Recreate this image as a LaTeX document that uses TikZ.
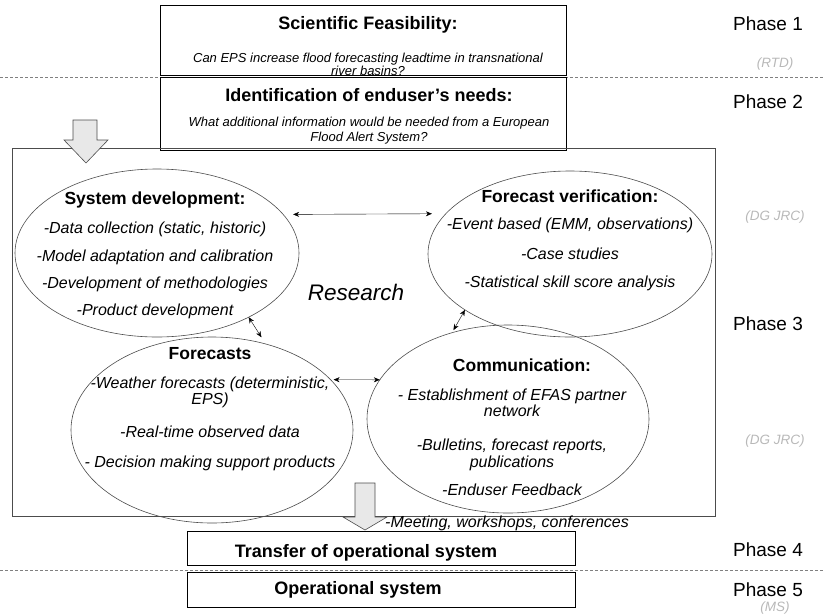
\documentclass[tikz,border=0pt]{standalone}
\usepackage{fontspec}
\setmainfont{Liberation Sans}
\usetikzlibrary{shapes.geometric,positioning,arrows.meta}

\definecolor{sponsor}{gray}{0.72}
\definecolor{arrowfill}{gray}{0.91}
\definecolor{edge}{gray}{0.3}

\newcommand{\boxhead}{\upshape\bfseries\fontsize{18}{18}\selectfont}
\newcommand{\bubhead}{\upshape\bfseries\fontsize{17.5}{18}\selectfont}

\tikzset{
  box/.style={draw=black, line width=0.8pt, fill=white, inner sep=0pt, outer sep=0pt, anchor=north west},
  boxtext/.style={font=\fontsize{13}{13}\selectfont\itshape, align=center, anchor=north, inner sep=0pt},
  bubble/.style={draw=edge, ellipse, line width=0.6pt, inner sep=0pt, outer sep=0pt},
  bubtext/.style={font=\fontsize{16}{16}\selectfont\itshape, align=center, anchor=north, inner sep=0pt},
  phase/.style={font=\fontsize{19}{19}\selectfont, anchor=base, inner sep=0pt},
  who/.style={font=\fontsize{13.5}{14}\selectfont\itshape, text=sponsor, anchor=base, inner sep=0pt},
  sep/.style={draw=gray, dash pattern=on 3pt off 2pt, line width=0.5pt},
  blockarrow/.style={draw=edge, fill=arrowfill, line width=0.6pt, line join=miter}
}

\begin{document}
\begin{tikzpicture}[x=1pt,y=-1pt,>={Stealth[length=6pt,width=5pt]}]
\useasboundingbox (0,0) rectangle (825,614);

% phase borders
\draw[sep] (0,77) -- (825,77);
\draw[sep] (0,570) -- (825,570);

% phase 1 and 2
\node[box, minimum width=406, minimum height=70] (feas) at (160,5) {};
\node[boxtext] (feastxt) at (368,16.5) {{\boxhead Scientific Feasibility:}\\[18.5pt]
  Can EPS increase flood forecasting leadtime in transnational\\ river basins?};
\node[box, minimum width=406, minimum height=73] (needs) at (160,77) {};
\node[boxtext] (needstxt) at (369,88.6) {{\boxhead Identification of enduser's needs:}\\[12pt]
  What additional information would be needed from a European\\[2pt] Flood Alert System?};

% phase 3
\draw[draw=edge, line width=0.7pt] (12,148) rectangle (715,516);
\node[font=\fontsize{22.5}{23}\selectfont\itshape, anchor=base, inner sep=0pt] (research) at (356,300) {Research};

\node[bubble, minimum width=284, minimum height=168] (sysdev) at (157,253) {};
\node[bubble, minimum width=284, minimum height=166] (fcver) at (570,254) {};
\node[bubble, minimum width=282, minimum height=186] (fcast) at (212,430) {};
\node[bubble, minimum width=282, minimum height=188] (comm) at (508,419) {};

\node[bubtext] (sysdevtxt) at (155,192) {{\bubhead System development:}\\[13pt]
  -Data collection (static, historic)\\[12pt]
  -Model adaptation and calibration\\[11pt]
  -Development of methodologies\\[11pt]
  -Product development};
\node[bubtext] (fcvertxt) at (570,190) {{\bubhead Forecast verification:}\\[11pt]
  -Event based (EMM, observations)\\[14pt]
  -Case studies\\[12pt]
  -Statistical skill score analysis};
\node[bubtext] (fcasttxt) at (210,347) {{\bubhead Forecasts}\\[13pt]
  -Weather forecasts (deterministic,\\ EPS)\\[17pt]
  -Real-time observed data\\[14pt]
  - Decision making support products};
\node[bubtext] (commtxt) at (512,359) {{\bubhead\hspace*{20pt}Communication:}\\[13pt]
  - Establishment of EFAS partner\\ network\\[18pt]
  -Bulletins, forecast reports,\\[1pt] publications\\[12pt]
  -Enduser Feedback};

\draw[<->, shorten <=10pt, shorten >=14pt] (sysdev.17) -- (fcver.162);
\draw[<->, shorten >=8pt] (sysdev.-35) -- (fcast.58);
\draw[<->, shorten >=3pt] (fcver.208) -- (comm.123);
\draw[<->, shorten <=3pt] (fcast.23) -- (comm.163);

% into research / out to transfer
\draw[blockarrow] (73,120) -- (97,120) -- (97,140) -- (108,140) -- (86,163) -- (64,140) -- (73,140) -- cycle;
\draw[blockarrow] (355,483) -- (375,483) -- (375,517) -- (387,517) -- (365,530) -- (343,517) -- (355,517) -- cycle;
\node[font=\fontsize{16}{16}\selectfont\itshape, anchor=base west, inner sep=0pt] (meet) at (385,527) {-Meeting, workshops, conferences};

% phase 4 and 5
\node[box, minimum width=388, minimum height=34] (transfer) at (187,531) {};
\node[font=\boxhead, anchor=base, inner sep=0pt] (transfertxt) at (366,557) {Transfer of operational system};
\node[box, minimum width=388, minimum height=35] (opsys) at (187,572) {};
\node[font=\boxhead, anchor=base, inner sep=0pt] (opsystxt) at (358,594) {Operational system};

\foreach \n/\y in {1/30.7, 2/108, 3/330, 4/556, 5/596}
  \node[phase] (phase\n) at (768,\y) {Phase \n};
\foreach \t/\y [count=\i] in {RTD/67, DG JRC/220, DG JRC/444, MS/611}
  \node[who] (who\i) at (775,\y) {(\t)};
\end{tikzpicture}
\end{document}
